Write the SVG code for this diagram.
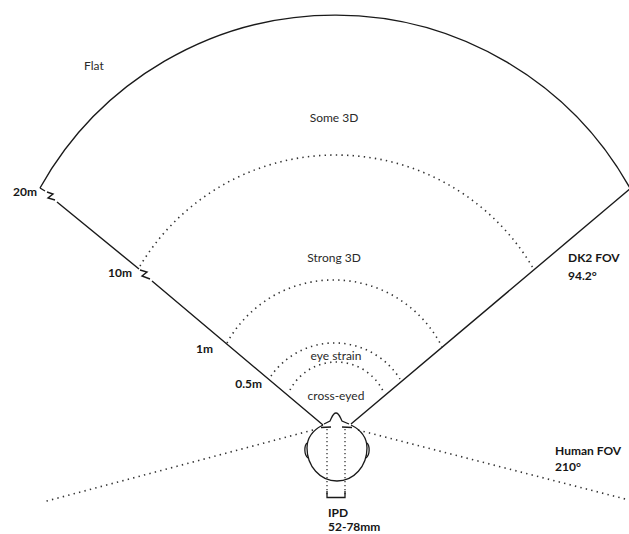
<svg xmlns="http://www.w3.org/2000/svg" width="629" height="534" viewBox="0 0 629 534">
<style>
.line{fill:none;stroke:#1a1a1a;stroke-width:1.4;stroke-linejoin:miter}
.dot{fill:none;stroke:#333;stroke-width:1.6;stroke-dasharray:1.4 4.2}
.thin{fill:none;stroke:#1a1a1a;stroke-width:1.3}
.vdot{fill:none;stroke:#333;stroke-width:1.3;stroke-dasharray:1.3 2.7}
.zone{font-family:Lato,"Open Sans",sans-serif;font-size:12px;fill:#2a2a2a;text-anchor:middle}
.lbl{font-family:Lato,"Open Sans",sans-serif;font-size:12px;font-weight:bold;fill:#161616}
</style>
<rect width="629" height="534" fill="#fff"/>
<g id="connectors">
<path id="big-arc" class="line" d="M40,188 A338,338 0 0 1 631,190"/>
<path id="left-fov" class="line" d="M40,188 L45,191 M47,192 L53,194 L48,198 L55,200 M57,202 L139,269 M140,270 L147,272 L142,276 L150,279 M152,281 L323,425"/>
<path id="right-fov" class="line" d="M351,424 L631,188"/>
<path id="arc-10m" class="dot" d="M140,266 A228.4,228.4 0 0 1 533,268"/>
<path id="arc-1m" class="dot" d="M227,343 A121.4,121.4 0 0 1 443,349"/>
<path id="arc-05m" class="dot" d="M271,376 A77.5,77.5 0 0 1 400,379"/>
<path id="arc-cross" class="dot" d="M290,390 A52.2,52.2 0 0 1 383,391"/>
<path id="human-left" class="dot" d="M313,430 L43,502"/>
<path id="human-right" class="dot" d="M358,430 L629,500"/>
</g>
<g id="head">
<path class="thin" d="M323,425 C313,430 307,438 307,448 C307,466 320,481 337,481 C354,481 367,466 367,448 C367,438 361,430 351,425"/>
<path class="thin" d="M307,443 C304,446 304,455 308,458 M367,443 C370,446 370,455 366,458"/>
<path class="thin" d="M324,424 L330,421 C332,417 333,413 336,413 C339,413 340,417 342,421 L349,424"/>
<path class="thin" d="M321,427.5 L331,427 M342,427 L352,427.5"/>
<path class="vdot" d="M327,429 L327,496 M345,429 L345,496"/>
<path class="thin" d="M327,491 L327,497.5 L345,497.5 L345,491"/>
</g>
<g id="zones">
<text class="zone" x="84" y="70" text-anchor="start" style="text-anchor:start">Flat</text>
<text class="zone" x="334" y="122">Some 3D</text>
<text class="zone" x="334" y="262">Strong 3D</text>
<text class="zone" x="336" y="360">eye strain</text>
<text class="zone" x="336" y="400">cross-eyed</text>
</g>
<g id="labels">
<text class="lbl" x="37" y="196" text-anchor="end">20m</text>
<text class="lbl" x="132" y="277" text-anchor="end">10m</text>
<text class="lbl" x="213" y="353" text-anchor="end">1m</text>
<text class="lbl" x="262" y="388" text-anchor="end">0.5m</text>
<text class="lbl" x="568" y="262">DK2 FOV</text>
<text class="lbl" x="568" y="280">94.2°</text>
<text class="lbl" x="555" y="455">Human FOV</text>
<text class="lbl" x="555" y="471">210°</text>
<text class="lbl" x="328" y="517">IPD</text>
<text class="lbl" x="328" y="531">52-78mm</text>
</g>
</svg>
